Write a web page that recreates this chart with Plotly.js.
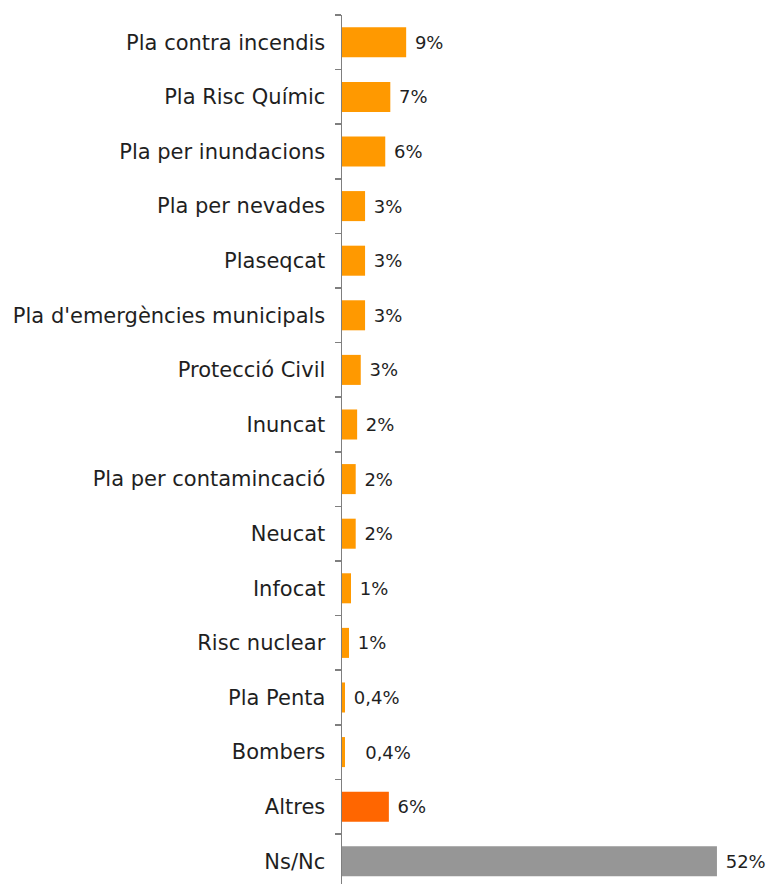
<!DOCTYPE html>
<html>
<head>
<meta charset="utf-8">
<script src="https://cdn.plot.ly/plotly-3.0.1.min.js"></script>
<style>html,body{margin:0;padding:0;background:#fff;}#chart{width:768px;height:884px;}</style>
</head>
<body>
<div id="chart"></div>
<script>
var categories = [
  "Pla contra incendis", "Pla Risc Químic", "Pla per inundacions", "Pla per nevades",
  "Plaseqcat", "Pla d'emergències municipals", "Protecció Civil", "Inuncat",
  "Pla per contamincació", "Neucat", "Infocat", "Risc nuclear", "Pla Penta",
  "Bombers", "Altres", "Ns/Nc"
];
var values = [8.9, 6.7, 6.0, 3.2, 3.2, 3.2, 2.6, 2.1, 1.9, 1.9, 1.25, 0.97, 0.42, 0.42, 6.5, 52];
var labels = ["9%", "7%", "6%", "3%", "3%", "3%", "3%", "2%", "2%", "2%", "1%", "1%", "0,4%", "\u00a0\u00a00,4%", "6%", "52%"];
var barColors = ["#FF9900","#FF9900","#FF9900","#FF9900","#FF9900","#FF9900","#FF9900","#FF9900",
  "#FF9900","#FF9900","#FF9900","#FF9900","#FF9900","#FF9900","#FF6600","#969696"];

var FONT = "DejaVu Sans, sans-serif";
var trace = {
  type: "bar",
  orientation: "h",
  y: categories,
  x: values,
  text: labels.map(function(t){ return "\u00a0" + t; }),
  textposition: "outside",
  cliponaxis: false,
  textfont: {family: FONT, size: 18, color: "#1f1f1f"},
  marker: {color: barColors, line: {width: 0}},
  hoverinfo: "none"
};

var layout = {
  width: 768, height: 884,
  margin: {l: 342, r: 0, t: 15, b: 0, pad: 0},
  paper_bgcolor: "#ffffff", plot_bgcolor: "#ffffff",
  showlegend: false,
  bargap: 0.45,
  font: {family: FONT, size: 21, color: "#1f1f1f"},
  xaxis: {visible: false, range: [0, 59.08], fixedrange: true},
  yaxis: {
    type: "category",
    range: [15.416, -0.5],
    showline: true, linecolor: "#7f7f7f", linewidth: 1.5,
    ticks: "outside", tickson: "boundaries", ticklen: 6, tickcolor: "#7f7f7f", tickwidth: 1.5,
    showgrid: false, zeroline: false,
    ticklabelstandoff: 11,
    tickfont: {family: FONT, size: 21, color: "#1f1f1f"},
    fixedrange: true
  }
};

Plotly.newPlot("chart", [trace], layout, {displayModeBar: false, staticPlot: true});
</script>
</body>
</html>
